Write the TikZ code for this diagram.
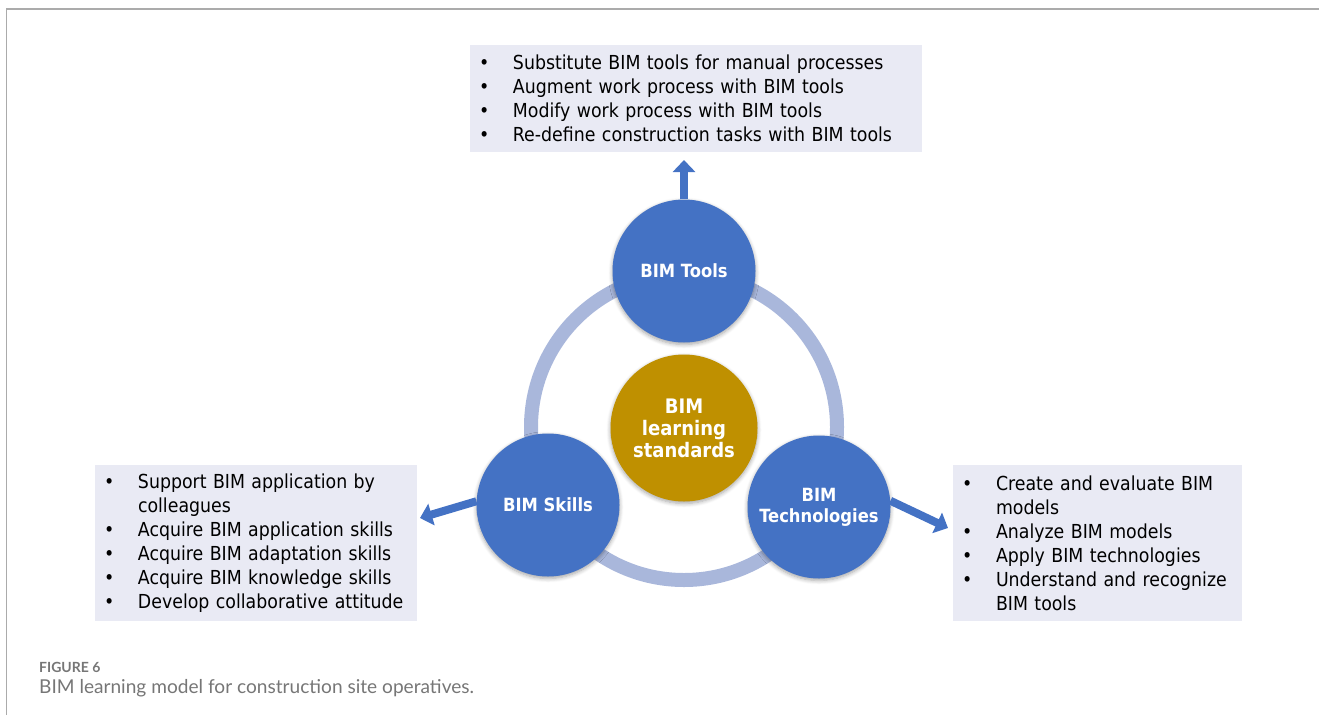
\documentclass[tikz,border=0pt]{standalone}
\usepackage{fontspec}
\setmainfont{DejaVu Sans Condensed}
\newfontfamily\capfont{Lato}
\usetikzlibrary{arrows.meta,shadows.blur}

\definecolor{satblue}{HTML}{4472C4}
\definecolor{goldfill}{HTML}{BF9000}
\definecolor{ringblue}{HTML}{A9B7DB}
\definecolor{boxfill}{HTML}{E9EAF4}
\definecolor{framegray}{HTML}{ABABAB}
\definecolor{capgray}{HTML}{767676}

% one bullet line and one continuation line of a list
\newcommand{\bl}[1]{\makebox[34pt][l]{\textbullet}#1}
\newcommand{\cl}[1]{\hspace*{34pt}#1}

\tikzset{
  listbox/.style={fill=boxfill, inner xsep=9pt, inner ysep=0pt, align=left,
    font=\fontsize{19.3}{24}\selectfont},
  sat/.style={circle, fill=satblue, minimum size=143pt, inner sep=0pt,
    text=white, align=center, font=\bfseries\fontsize{18.2}{21}\selectfont,
    blur shadow={shadow blur steps=6, shadow xshift=0pt, shadow yshift=-2pt,
      shadow opacity=35, shadow blur radius=4pt}},
  core/.style={circle, fill=goldfill, minimum size=147pt, inner sep=0pt,
    text=white, align=center, font=\bfseries\fontsize{20}{22}\selectfont,
    blur shadow={shadow blur steps=6, shadow xshift=0pt, shadow yshift=-2pt,
      shadow opacity=35, shadow blur radius=4pt}},
  outarrow/.style={draw=satblue, line width=8pt,
    -{Triangle[width=22pt,length=12pt]}},
  ring/.style={draw=ringblue, line width=14pt},
  frameline/.style={draw=framegray, line width=1.6pt}
}

\begin{document}
\begin{tikzpicture}[x=1pt,y=-1pt]
  \useasboundingbox (0,0) rectangle (1319,715);

  % page frame
  \draw[frameline] (6.5,715) -- (6.5,9) -- (1319,9);

  % connecting ring behind the circles
  \draw[ring] (684,427) circle[radius=153pt];

  % satellite circles and the core
  \node[sat]  (tools)  at (684,271) {BIM Tools};
  \node[sat]  (skills) at (548,505) {BIM Skills};
  \node[sat]  (techs)  at (819,507) {BIM\\Technologies};
  \node[core] (core)   at (684,428) {BIM\\learning\\standards};

  % outcome lists
  \node[listbox, text width=434pt, minimum height=107pt] (toplist) at (696,98.5)
    {\bl{Substitute BIM tools for manual processes}\\
     \bl{Augment work process with BIM tools}\\
     \bl{Modify work process with BIM tools}\\
     \bl{Re-define construction tasks with BIM tools}};
  \node[listbox, text width=304pt, minimum height=156pt] (leftlist) at (256,543)
    {\bl{Support BIM application by}\\
     \cl{colleagues}\\
     \bl{Acquire BIM application skills}\\
     \bl{Acquire BIM adaptation skills}\\
     \bl{Acquire BIM knowledge skills}\\
     \bl{Develop collaborative attitude}};
  \node[listbox, text width=271pt, minimum height=156pt] (rightlist) at (1097.5,543)
    {\bl{Create and evaluate BIM}\\
     \cl{models}\\
     \bl{Analyze BIM models}\\
     \bl{Apply BIM technologies}\\
     \bl{Understand and recognize}\\
     \cl{BIM tools}};

  % arrow tips just short of the lists
  \coordinate (toptip)   at (684,160);
  \coordinate (lefttip)  at (420,518);
  \coordinate (righttip) at (948,528);

  \draw[outarrow] (tools.north) -- (toptip);
  \draw[outarrow] (skills.177)  -- (lefttip);
  \draw[outarrow] (techs.5)     -- (righttip);

  % caption
  \node[anchor=west, inner sep=0pt, text=capgray,
    font=\capfont\bfseries\fontsize{14}{16}\selectfont] (figno) at (39,667) {FIGURE 6};
  \node[anchor=west, inner sep=0pt, text=capgray,
    font=\capfont\fontsize{19.1}{21}\selectfont] (figcap) at (39,688)
    {BIM learning model for construction site operatives.};
\end{tikzpicture}
\end{document}
